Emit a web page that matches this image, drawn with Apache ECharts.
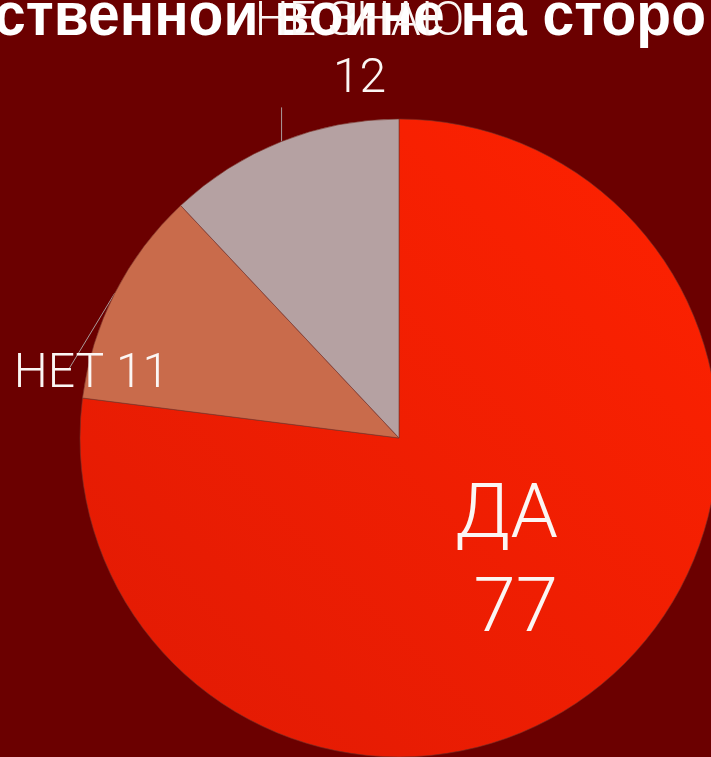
<!DOCTYPE html>
<html><head><meta charset="utf-8">
<script src="https://cdn.jsdelivr.net/npm/echarts@6/dist/echarts.min.js"></script>
<style>html,body{margin:0;padding:0;background:#6b0000;}#c{width:711px;height:757px;}</style>
</head><body><div id="c"></div>
<script>
const titleText = 'ственной войне на сторо';
const categories = ['ДА', 'НЕТ', 'НЕ ЗНАЮ'];
const values = [77, 11, 12];
const colors = [
  {type:'linear', x:1, y:0, x2:0, y2:1, colorStops:[{offset:0,color:'#ff2200'},{offset:1,color:'#e01a04'}]},
  '#c96b4b',
  '#b5a1a2'
];

const chart = echarts.init(document.getElementById('c'));
const labelFont = 'Roboto';
chart.setOption({
  backgroundColor: '#6b0000',
  animation: false,
  graphic: [{
    type: 'text', x: -6, y: -13, scaleX: 0.92, z: 1,
    style: { text: titleText, fill: '#ffffff', font: 'bold 62px "Liberation Sans"' }
  }],
  series: [{
    type: 'pie',
    center: [399, 438],
    radius: 319,
    startAngle: 90,
    clockwise: true,
    avoidLabelOverlap: false,
    z: 2,
    itemStyle: { borderColor: 'rgba(120,50,40,0.6)', borderWidth: 1 },
    labelLine: { show: true, lineStyle: { color: '#a89a9a', width: 1 }, length: 20, length2: 10 },
    label: {
      color: '#fbf6f4', fontFamily: labelFont, fontWeight: 300
    },
    data: categories.map((c, i) => {
      const d = { name: c, value: values[i], itemStyle: { color: colors[i] } };
      if (i === 0) {
        d.label = { position: 'inside', formatter: '{b}\n {c}', fontSize: 76, lineHeight: 94, offset: [0, 5] };
        d.labelLine = { show: false };
      } else if (i === 1) {
        d.label = { position: 'outside', formatter: '{b} {c}', fontSize: 48 };
      } else {
        d.label = { position: 'outside', formatter: '{b}\n{c}', fontSize: 48, lineHeight: 57, align: 'center' };
      }
      return d;
    }),
    labelLayout: function (p) {
      const pts = p.labelLinePoints;
      if (!pts) return {};
      const a = pts[0];
      if (p.dataIndex === 2) {
        return { x: a[0] + 78, y: a[1] - 33, align: 'center', verticalAlign: 'bottom',
          labelLinePoints: [[a[0], a[1]], [a[0], a[1] - 34], [a[0], a[1] - 34]] };
      }
      if (p.dataIndex === 1) {
        return { x: a[0] - 101, y: a[1] + 82, align: 'left', verticalAlign: 'middle',
          labelLinePoints: [[a[0], a[1]], [a[0] - 46, a[1] + 76], [a[0] - 46, a[1] + 76]] };
      }
      return {};
    }
  }]
});
</script></body></html>
